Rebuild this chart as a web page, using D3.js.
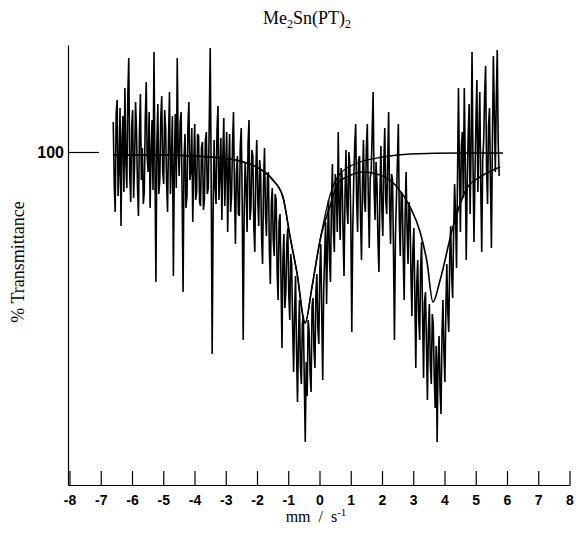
<!DOCTYPE html>
<html>

<head>
  <meta charset="utf-8">
  <title>Me2Sn(PT)2</title>
  <script src="https://d3js.org/d3.v7.min.js"></script>
  <style>
    body { margin: 0; background: #fff; }
  </style>
</head>

<body>

  <script>
    var width = 576;
    var height = 537;

    // channel velocities run evenly from velStart to velEnd (mm/s)
    var velStart = -6.6;
    var velEnd = 5.75;

    // % transmittance per channel
    var transmission = [
      // -6.6 .. -5.1
      101.5, 98.4, 97.0, 101.9, 102.6, 97.8, 99.1, 102.2, 96.3, 100.6,
      101.8, 98.0, 103.2, 99.5, 98.2, 102.8, 104.7, 98.9, 97.5, 101.3,
      102.1, 97.7, 99.4, 102.5, 101.0, 98.3, 96.8, 100.9, 102.9, 98.6,
      100.2, 97.4, 98.0, 101.6, 103.5, 99.7, 99.0, 102.0, 97.2, 99.9,
      101.6, 98.1, 105.0, 99.2, 93.5, 100.4, 102.4, 97.9, 98.6, 101.7,
      // -5.1 .. -2.6
      102.8, 99.0, 98.4, 102.1, 101.2, 98.5, 97.0, 100.7, 103.0, 97.9,
      99.6, 101.8, 93.8, 99.3, 101.9, 98.2, 104.7, 100.1, 98.8, 101.5,
      102.0, 98.0, 93.0, 99.7, 100.9, 97.2, 97.8, 101.3, 102.5, 98.6,
      99.0, 101.2, 96.5, 99.4, 101.4, 97.6, 98.0, 100.9, 100.8, 97.5,
      97.3, 100.2, 100.5, 97.1, 97.6, 100.6, 101.0, 97.9, 98.2, 101.4,
      105.2, 98.7, 89.9, 97.0, 100.6, 98.3, 97.4, 101.1, 102.3, 97.6,
      98.8, 100.7, 96.6, 99.8, 101.7, 97.3, 99.2, 101.0, 96.0, 99.1,
      100.9, 97.0, 97.8, 100.4, 102.0, 98.1, 95.4, 99.0, 99.8, 96.9,
      96.8, 100.3,
      // -2.6 .. -0.9
      101.2, 97.5, 90.6, 96.8, 99.5, 98.3, 96.0, 100.4, 101.6, 96.6,
      97.2, 100.1, 99.8, 96.2, 95.0, 99.1, 100.6, 97.7, 96.3, 99.6,
      98.9, 95.7, 94.4, 98.5, 100.2, 96.9, 95.8, 98.7, 99.0, 95.1,
      93.4, 97.4, 98.2, 95.6, 94.8, 97.9, 97.6, 94.0, 92.6, 96.5,
      96.9, 93.6, 90.2, 94.7, 95.9, 92.2, 93.0, 95.4, 96.2, 92.9,
      91.6, 94.9, 94.4, 91.3,
      // -0.9 .. 0.0
      89.0, 92.0, 93.8, 90.1, 87.5, 90.6, 92.6, 89.3, 88.4, 91.4,
      91.8, 88.6, 85.5, 89.5, 87.8, 91.6, 91.0, 88.9, 88.0, 92.3,
      92.7, 90.1, 89.2, 93.0, 93.9, 91.2, 90.4, 94.0,
      // 0.0 .. 2.1
      95.4, 92.0, 88.6, 93.1, 94.8, 96.5, 92.4, 95.6, 97.6, 94.6,
      93.5, 97.3, 99.4, 96.1, 95.0, 98.9, 98.2, 96.0, 101.0, 97.4,
      95.6, 99.2, 98.8, 95.9, 93.8, 97.8, 100.1, 97.2, 96.4, 100.0,
      99.3, 96.5, 91.0, 96.1, 98.6, 100.3, 101.4, 97.6, 96.0, 99.6,
      99.8, 96.7, 94.6, 98.3, 100.6, 97.5, 97.0, 100.2, 101.4, 97.8,
      95.2, 98.7, 99.0, 101.0, 103.0, 98.1, 96.6, 99.5, 98.4, 95.5,
      94.0, 97.9, 100.3, 97.1, 95.8, 99.4, 101.2, 97.6,
      // 2.1 .. 4.3
      96.9, 99.5, 102.0, 97.3, 95.4, 98.9, 98.6, 95.0, 90.6, 95.8,
      97.6, 99.4, 101.4, 96.6, 94.8, 98.0, 97.9, 94.9, 92.6, 96.8,
      99.0, 96.1, 94.4, 97.5, 97.0, 93.9, 91.8, 95.1, 96.2, 92.8,
      89.2, 93.4, 94.6, 91.7, 90.6, 94.2, 95.5, 91.9, 88.7, 92.5,
      93.0, 90.4, 87.6, 91.1, 92.4, 89.4, 88.4, 91.9, 91.4, 88.8,
      87.2, 90.3, 85.5, 89.6, 90.8, 88.1, 86.9, 90.9, 92.6, 90.0,
      88.5, 92.1, 94.4, 92.0, 91.0, 94.7, 96.3, 93.8, 92.7, 95.9,
      // 4.3 .. 5.75
      98.4, 96.9, 94.2, 98.6, 103.2, 99.1, 96.0, 100.3, 101.0, 97.7,
      103.2, 99.6, 94.6, 98.4, 100.8, 102.4, 96.9, 100.2, 105.0, 99.4,
      95.5, 98.8, 101.5, 103.6, 98.0, 100.7, 103.0, 98.2, 95.0, 99.6,
      100.6, 102.9, 104.3, 99.1, 97.4, 101.3, 102.2, 98.5, 95.2, 100.5,
      104.8, 101.9, 99.0, 102.6, 105.1, 100.4, 98.8
    ];

    // fitted curve (sum of both doublet lines)
    var fitVel = [-6.61, -5.10, -3.50, -2.54, -1.90, -1.49, -1.17, -0.94, -0.72, -0.46,
      -0.24, 0.02, 0.34, 0.59, 0.88, 1.39, 1.94, 2.48, 2.90, 3.22,
      3.44, 3.63, 3.86, 4.27, 4.72, 5.14, 5.78];
    var fitTotal = [99.85, 99.85, 99.75, 99.55, 99.15, 98.6, 97.75, 95.75, 93.95, 91.45,
      93.25, 95.6, 97.3, 98.45, 98.75, 99.0, 98.85, 98.25, 97.25, 96.0,
      94.5, 92.5, 93.6, 96.25, 98.2, 98.75, 99.25];

    // single line component centred near -0.5 mm/s
    var compVel = [-6.61, -5.10, -3.50, -2.54, -1.90, -1.49, -1.17, -0.94, -0.72, -0.46,
      -0.24, 0.02, 0.34, 0.65, 1.30, 2.03, 2.90, 4.50, 5.87];
    var compOne = [99.85, 99.85, 99.75, 99.55, 99.15, 98.6, 97.75, 95.75, 93.95, 91.45,
      93.25, 95.6, 97.85, 98.9, 99.5, 99.75, 99.9, 99.95, 99.95];

    var xTickValues = [-8, -7, -6, -5, -4, -3, -2, -1, 0, 1, 2, 3, 4, 5, 6, 7, 8];
    var yTickValues = [100];

    var svg = d3.select("body").append("svg")
      .attr("width", width)
      .attr("height", height);

    var x = d3.scaleLinear().domain([-8, 8]).range([69.5, 569.5]);
    var y = d3.scaleLinear().domain([83.35, 105.35]).range([485, 45]);

    var step = (velEnd - velStart) / (transmission.length - 1);
    var points = transmission.map(function (t, i) {
      return { v: velStart + i * step, t: t };
    });

    // axes
    var xAxis = d3.axisBottom(x)
      .tickValues(xTickValues)
      .tickFormat(function (d) { return String(d); })
      .tickSizeInner(-14)
      .tickSizeOuter(0)
      .tickPadding(10);

    var gX = svg.append("g")
      .attr("transform", "translate(0,485)")
      .call(xAxis);
    gX.select(".domain").attr("d", "M68.5,0.5H570.5");
    gX.selectAll("text")
      .attr("font-family", "Liberation Sans, Arial, sans-serif")
      .attr("font-weight", "bold")
      .attr("font-size", 14)
      .attr("fill", "#000");

    var yAxis = d3.axisLeft(y)
      .tickValues(yTickValues)
      .tickSizeInner(-31)
      .tickSizeOuter(0)
      .tickPadding(4);

    var gY = svg.append("g")
      .attr("transform", "translate(68,0)")
      .call(yAxis);
    gY.selectAll("text")
      .attr("font-family", "Liberation Sans, Arial, sans-serif")
      .attr("font-weight", "bold")
      .attr("font-size", 16)
      .attr("fill", "#000");

    svg.selectAll(".domain, .tick line").attr("stroke", "#000").attr("stroke-width", 1.2);

    // data trace
    var line = d3.line()
      .x(function (d) { return x(d.v); })
      .y(function (d) { return y(d.t); });

    svg.append("path")
      .datum(points)
      .attr("fill", "none")
      .attr("stroke", "#000")
      .attr("stroke-width", 1.6)
      .attr("stroke-linejoin", "bevel")
      .attr("d", line);

    // fit curves
    var curve = d3.line()
      .curve(d3.curveMonotoneX)
      .x(function (d) { return x(d[0]); })
      .y(function (d) { return y(d[1]); });

    svg.append("path")
      .datum(d3.zip(compVel, compOne))
      .attr("fill", "none")
      .attr("stroke", "#000")
      .attr("stroke-width", 1.3)
      .attr("d", curve);

    svg.append("path")
      .datum(d3.zip(fitVel, fitTotal))
      .attr("fill", "none")
      .attr("stroke", "#000")
      .attr("stroke-width", 1.6)
      .attr("d", curve);

    // title
    var title = svg.append("text")
      .attr("x", 307)
      .attr("y", 24)
      .attr("text-anchor", "middle")
      .attr("font-family", "Liberation Serif, Times New Roman, serif")
      .attr("font-size", 18);
    title.append("tspan").text("Me");
    title.append("tspan").attr("font-size", 12).attr("dy", 4).text("2");
    title.append("tspan").attr("dy", -4).text("Sn(PT)");
    title.append("tspan").attr("font-size", 12).attr("dy", 4).text("2");

    // axis titles
    var xl = svg.append("text")
      .attr("x", 316)
      .attr("y", 522)
      .attr("text-anchor", "middle")
      .attr("font-family", "Liberation Serif, Times New Roman, serif")
      .attr("font-size", 16)
      .attr("word-spacing", 4);
    xl.append("tspan").text("mm / s");
    xl.append("tspan").attr("font-size", 11).attr("dy", -6).text("-1");

    svg.append("text")
      .attr("transform", "translate(24,262) rotate(-90)")
      .attr("text-anchor", "middle")
      .attr("font-family", "Liberation Serif, Times New Roman, serif")
      .attr("font-size", 18)
      .text("% Transmittance");
  </script>

</body>

</html>
